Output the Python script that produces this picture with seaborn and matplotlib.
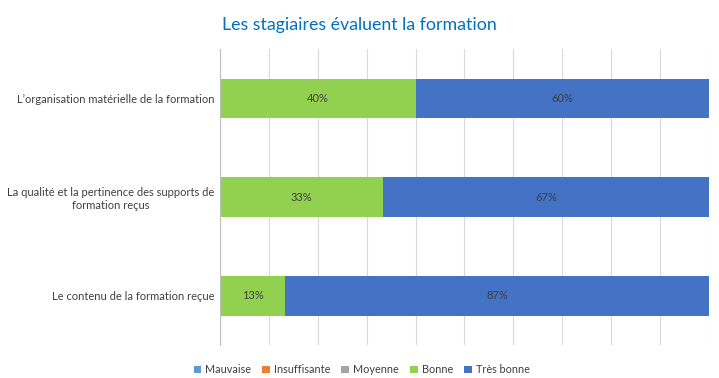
import pandas as pd
import matplotlib.pyplot as plt
import seaborn as sns
from matplotlib.patches import Patch

# --- data ---
criteres = [
    "L\u2019organisation matérielle de la formation",
    "La qualité et la pertinence des supports de\nformation reçus",
    "Le contenu de la formation reçue",
]
niveaux = ["Mauvaise", "Insuffisante", "Moyenne", "Bonne", "Très bonne"]
mauvaise = [0, 0, 0]
insuffisante = [0, 0, 0]
moyenne = [0, 0, 0]
bonne = [40, 33.3, 13.3]
tres_bonne = [60, 66.7, 86.7]

couleurs = ["#5B9BD5", "#ED7D31", "#A5A5A5", "#92D050", "#4472C4"]

df = pd.DataFrame({"critere": criteres, "Mauvaise": mauvaise,
                   "Insuffisante": insuffisante, "Moyenne": moyenne,
                   "Bonne": bonne, "Très bonne": tres_bonne})
# cumuls pour empiler les barres (on dessine du plus long au plus court)
cum = df[niveaux].cumsum(axis=1)

sns.set_style("white")
plt.rcParams['font.family'] = ['Lato', 'DejaVu Sans']

fig = plt.figure(figsize=(7.19, 3.78), dpi=100)
ax = fig.add_axes([0.306, 0.087, 0.680, 0.783])

for niv, col in reversed(list(zip(niveaux, couleurs))):
    sns.barplot(data=cum.assign(critere=df["critere"]), y="critere", x=niv,
                color=col, width=0.4, orient="h", ax=ax, saturation=1,
                edgecolor="none", linewidth=0)

# étiquettes centrées dans chaque segment visible
bars_tb = ax.containers[0]   # Très bonne
bars_b = ax.containers[1]    # Bonne
for cont, vals in [(bars_tb, tres_bonne), (bars_b, bonne)]:
    for rect, v in zip(cont, vals):
        if v > 0:
            x0 = rect.get_width() - v
            ax.text(x0 + v / 2, rect.get_y() + rect.get_height() / 2, f"{v:.0f}%",
                    ha="center", va="center", fontsize=8, color="#404040")

ax.set_xlim(0, 100)
ax.set_ylim(2.5, -0.5)
ax.set_xticks(range(0, 101, 10))
ax.set_xticklabels([])
ax.xaxis.grid(True, color="#D9D9D9", linewidth=0.8)
ax.set_axisbelow(True)
ax.tick_params(axis="both", length=0)
ax.tick_params(axis="y", labelsize=8.0, labelcolor="#404040", pad=4)
for t in ax.get_yticklabels():
    t.set_multialignment("center")
ax.set_xlabel("")
ax.set_ylabel("")
for s in ["top", "right", "bottom"]:
    ax.spines[s].set_visible(False)
ax.spines["left"].set_color("#BFBFBF")
ax.spines["left"].set_linewidth(0.8)

fig.suptitle("Les stagiaires évaluent la formation", x=0.5, y=0.955,
             fontsize=12.8, color="#0070C0")

handles = [Patch(facecolor=c, edgecolor="none", label=n) for n, c in zip(niveaux, couleurs)]
fig.legend(handles=handles, loc="center", bbox_to_anchor=(0.503, 0.022), ncol=5,
           frameon=False, fontsize=7.8, handlelength=0.7, handleheight=0.7,
           handletextpad=0.4, columnspacing=1.0, labelcolor="#404040")

plt.savefig("out.png", dpi=100)
